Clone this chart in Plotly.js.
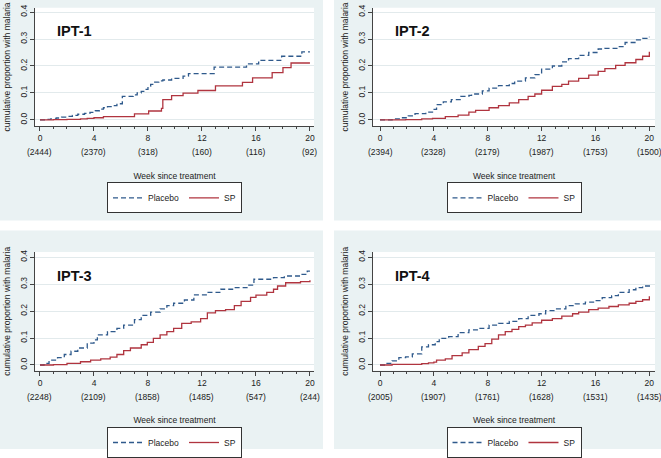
<!DOCTYPE html>
<html><head><meta charset="utf-8">
<script src="https://cdn.plot.ly/plotly-3.0.1.min.js"></script>
<style>html,body{margin:0;padding:0;background:#fff}#chart{width:661px;height:458px}</style>
</head><body><div id="chart"></div>
<script>
// ---- data ----
const weekTicks = [0, 4, 8, 12, 16, 20];
const propTicks = [0, 0.1, 0.2, 0.3, 0.4];
const panelTitles = ['IPT-1', 'IPT-2', 'IPT-3', 'IPT-4'];
const armNames = ['Placebo', 'SP'];
const xTitle = 'Week since treatment';
const yTitle = 'cumulative proportion with malaria';

const ipt1AtRisk = [2444, 2370, 318, 160, 116, 92];
const ipt2AtRisk = [2394, 2328, 2179, 1987, 1753, 1500];
const ipt3AtRisk = [2248, 2109, 1858, 1485, 547, 244];
const ipt4AtRisk = [2005, 1907, 1761, 1628, 1531, 1435];

const ipt1PlaceboWeek = [0, 0.4, 0.8, 1.2, 1.6, 2.0, 2.4, 2.8, 3.3, 3.7, 4.1, 4.4, 4.7, 5.0, 5.4, 5.7, 6.1, 6.9, 7.2, 7.5, 7.8, 8.0, 8.2, 8.5, 8.8, 9.1, 9.75, 10.6, 11.0, 12.9, 15.3, 16.2, 17.9, 19.4, 20];
const ipt1PlaceboCum  = [0, 0.002, 0.004, 0.007, 0.010, 0.013, 0.017, 0.021, 0.024, 0.028, 0.034, 0.040, 0.045, 0.049, 0.053, 0.060, 0.087, 0.093, 0.100, 0.106, 0.113, 0.125, 0.132, 0.140, 0.145, 0.148, 0.154, 0.162, 0.172, 0.196, 0.208, 0.221, 0.236, 0.252, 0.252];
const ipt1SpWeek = [0, 1.0, 2.0, 3.0, 3.5, 4.0, 4.7, 7.0, 8.05, 9.0, 9.1, 9.75, 10.6, 11.7, 13.0, 15.0, 15.75, 17.2, 18.0, 18.6, 20];
const ipt1SpCum  = [0, 0.001, 0.002, 0.004, 0.006, 0.008, 0.012, 0.022, 0.033, 0.043, 0.075, 0.090, 0.099, 0.109, 0.126, 0.139, 0.156, 0.175, 0.194, 0.211, 0.211];

const ipt2PlaceboWeek = [0, 0.9, 1.6, 2.1, 2.6, 3.4, 3.9, 4.2, 4.7, 5.3, 6.0, 6.6, 6.8, 7.6, 8.1, 8.8, 9.6, 10.0, 10.8, 11.5, 12.0, 12.8, 13.5, 14.0, 14.75, 15.5, 16.2, 16.7, 17.7, 18.2, 19.0, 19.5, 20];
const ipt2PlaceboCum  = [0, 0.004, 0.008, 0.015, 0.023, 0.029, 0.039, 0.057, 0.067, 0.075, 0.087, 0.091, 0.096, 0.108, 0.118, 0.127, 0.135, 0.144, 0.156, 0.168, 0.188, 0.200, 0.215, 0.227, 0.239, 0.250, 0.263, 0.265, 0.272, 0.287, 0.297, 0.302, 0.308];
const ipt2SpWeek = [0, 1.9, 3.1, 3.9, 4.85, 5.8, 6.6, 7.1, 8.1, 8.8, 9.6, 10.3, 11.0, 11.5, 12.0, 12.8, 13.5, 14.0, 14.75, 15.5, 16.2, 16.7, 17.5, 18.2, 19.0, 19.5, 20];
const ipt2SpCum  = [0, 0.001, 0.004, 0.006, 0.012, 0.018, 0.029, 0.035, 0.045, 0.053, 0.063, 0.075, 0.087, 0.096, 0.110, 0.124, 0.132, 0.144, 0.154, 0.166, 0.180, 0.190, 0.202, 0.212, 0.224, 0.236, 0.253];

const ipt3PlaceboWeek = [0, 0.3, 0.67, 1.3, 1.8, 2.3, 2.8, 3.5, 4.0, 4.25, 5.0, 5.7, 6.2, 7.0, 7.5, 8.2, 8.9, 9.4, 9.9, 10.7, 11.4, 12.4, 13.4, 14.4, 15.4, 15.85, 17.3, 18.1, 19.3, 19.8, 20];
const ipt3PlaceboCum  = [0, 0.006, 0.018, 0.027, 0.039, 0.051, 0.063, 0.081, 0.093, 0.112, 0.124, 0.136, 0.148, 0.168, 0.184, 0.196, 0.208, 0.220, 0.229, 0.241, 0.260, 0.269, 0.281, 0.287, 0.296, 0.318, 0.324, 0.330, 0.336, 0.348, 0.348];
const ipt3SpWeek = [0, 1.0, 2.0, 3.0, 3.75, 4.5, 5.2, 5.7, 6.2, 6.7, 7.5, 7.95, 8.4, 8.9, 9.4, 9.9, 10.5, 11.2, 11.9, 12.4, 13.0, 13.75, 14.4, 14.9, 15.6, 16.0, 16.8, 17.3, 17.6, 18.2, 19.3, 20];
const ipt3SpCum  = [0, 0.001, 0.006, 0.012, 0.018, 0.023, 0.029, 0.039, 0.053, 0.063, 0.075, 0.084, 0.099, 0.112, 0.124, 0.136, 0.154, 0.160, 0.172, 0.193, 0.202, 0.205, 0.220, 0.236, 0.251, 0.259, 0.269, 0.281, 0.293, 0.305, 0.309, 0.314];

const ipt4PlaceboWeek = [0, 0.4, 0.9, 1.4, 1.9, 2.4, 3.1, 3.6, 4.1, 4.4, 5.1, 5.8, 6.6, 7.3, 8.1, 8.8, 9.6, 10.3, 11.0, 11.8, 12.3, 13.0, 13.8, 14.5, 15.25, 16.0, 16.5, 17.2, 17.7, 18.5, 19.0, 19.5, 20];
const ipt4PlaceboCum  = [0, 0.006, 0.015, 0.027, 0.030, 0.041, 0.067, 0.075, 0.087, 0.099, 0.105, 0.120, 0.130, 0.136, 0.148, 0.154, 0.162, 0.172, 0.184, 0.190, 0.202, 0.208, 0.220, 0.227, 0.233, 0.239, 0.250, 0.257, 0.269, 0.279, 0.287, 0.293, 0.302];
const ipt4SpWeek = [0, 0.9, 3.1, 3.6, 4.0, 4.2, 4.85, 5.35, 6.1, 6.6, 7.3, 7.8, 8.3, 8.8, 9.3, 9.8, 10.3, 10.8, 11.3, 12.0, 12.8, 13.5, 14.3, 14.75, 15.5, 16.2, 17.0, 17.7, 18.5, 19.0, 19.5, 20];
const ipt4SpCum  = [0, 0.002, 0.005, 0.008, 0.011, 0.018, 0.023, 0.035, 0.045, 0.057, 0.069, 0.079, 0.096, 0.112, 0.124, 0.132, 0.142, 0.148, 0.156, 0.166, 0.172, 0.181, 0.190, 0.196, 0.205, 0.211, 0.217, 0.223, 0.229, 0.236, 0.242, 0.255];

// ---- layout (pixel geometry of the 661x458 figure) ----
const W = 661, H = 458;
const fx = v => v / W;
const fy = v => 1 - v / H;
const FONT = '"Liberation Sans", Arial, sans-serif';
const TXT = '#222';
const AXC = '#444';
const PANEL_BG = '#EAF2F3';
const C_PLACEBO = '#2F5A8C';
const C_SP = '#B0343F';

const series = [
  {pw: ipt1PlaceboWeek, pc: ipt1PlaceboCum, sw: ipt1SpWeek, sc: ipt1SpCum, risk: ipt1AtRisk},
  {pw: ipt2PlaceboWeek, pc: ipt2PlaceboCum, sw: ipt2SpWeek, sc: ipt2SpCum, risk: ipt2AtRisk},
  {pw: ipt3PlaceboWeek, pc: ipt3PlaceboCum, sw: ipt3SpWeek, sc: ipt3SpCum, risk: ipt3AtRisk},
  {pw: ipt4PlaceboWeek, pc: ipt4PlaceboCum, sw: ipt4SpWeek, sc: ipt4SpCum, risk: ipt4AtRisk}
];
// plot box [left,right,top,bottom] px, panel bg box, axis ranges, text rows
const geo = [
  {plot: [35, 314, 8, 128.5],  bg: [0, 323, 0, 225],   xr: [-0.37, 20.3], yr: [-0.0225, 0.4156], riskY: 155, legY: 186},
  {plot: [373, 655, 8, 128.5], bg: [334, 661, 0, 225], xr: [-0.52, 20.42], yr: [-0.0225, 0.4156], riskY: 155, legY: 186},
  {plot: [35, 314, 257, 378],  bg: [0, 323, 235, 458], xr: [-0.37, 20.3], yr: [-0.0207, 0.4193], riskY: 405, legY: 436},
  {plot: [373, 655, 257, 378], bg: [334, 661, 235, 458], xr: [-0.52, 20.42], yr: [-0.0207, 0.4193], riskY: 405, legY: 436}
];

const traces = [];
const layout = {
  width: W, height: H,
  margin: {l: 0, r: 0, t: 0, b: 0},
  paper_bgcolor: '#ffffff',
  plot_bgcolor: '#ffffff',
  font: {family: FONT, size: 8.5, color: TXT},
  shapes: [], annotations: []
};

geo.forEach((g, i) => {
  const n = i === 0 ? '' : String(i + 1);
  const xa = 'x' + n, ya = 'y' + n, lg = 'legend' + n;
  const s = series[i];
  traces.push({
    x: s.pw, y: s.pc, xaxis: xa, yaxis: ya, legend: lg,
    type: 'scatter', mode: 'lines', name: armNames[0],
    line: {color: C_PLACEBO, width: 1.3, dash: '5px,3px', shape: 'hv'}
  });
  traces.push({
    x: s.sw, y: s.sc, xaxis: xa, yaxis: ya, legend: lg,
    type: 'scatter', mode: 'lines', name: armNames[1],
    line: {color: C_SP, width: 1.3, shape: 'hv'}
  });

  layout['xaxis' + n] = {
    domain: [fx(g.plot[0]), fx(g.plot[1])], anchor: ya,
    range: g.xr, tickmode: 'array', tickvals: weekTicks,
    ticks: 'outside', ticklen: 4, tickwidth: 1, tickcolor: AXC,
    showline: true, linecolor: AXC, linewidth: 1,
    showgrid: false, zeroline: false, fixedrange: true,
    tickfont: {family: FONT, size: 8.5, color: TXT},
    minor: {tickmode: 'linear', tick0: weekTicks[0], dtick: 1, ticks: 'outside', ticklen: 2, tickcolor: AXC, showgrid: false},
    title: {text: xTitle, font: {family: FONT, size: 8.5, color: TXT}, standoff: 30}
  };
  layout['yaxis' + n] = {
    domain: [fy(g.plot[3]), fy(g.plot[2])], anchor: xa,
    range: g.yr, tickmode: 'array', tickvals: propTicks, tickformat: '.1f',
    tickangle: -90, ticks: 'outside', ticklen: 4, tickwidth: 1, tickcolor: AXC,
    showline: true, linecolor: AXC, linewidth: 1,
    showgrid: true, gridcolor: '#E2EAEC', gridwidth: 1, zeroline: false, fixedrange: true,
    tickfont: {family: FONT, size: 8.5, color: TXT},
    title: {text: yTitle, font: {family: FONT, size: 8.5, color: TXT}, standoff: 6}
  };
  layout[lg] = {
    orientation: 'h', x: fx((g.plot[0] + g.plot[1]) / 2), y: fy(g.legY),
    xanchor: 'center', yanchor: 'top',
    bgcolor: '#ffffff', bordercolor: '#333', borderwidth: 1,
    font: {family: FONT, size: 8.5, color: TXT}
  };

  layout.shapes.push({type: 'rect', xref: 'paper', yref: 'paper', layer: 'below',
    x0: fx(g.bg[0]), x1: fx(g.bg[1]), y0: fy(g.bg[3]), y1: fy(g.bg[2]),
    fillcolor: PANEL_BG, line: {width: 0}});

  s.risk.forEach((r, k) => {
    layout.annotations.push({xref: xa, yref: 'paper', x: weekTicks[k], y: fy(g.riskY),
      text: '(' + r + ')', showarrow: false, xanchor: 'center', yanchor: 'middle',
      font: {family: FONT, size: 8.5, color: TXT}});
  });
  layout.annotations.push({xref: xa + ' domain', yref: ya + ' domain', x: 0.072, y: 0.80,
    text: '<b>' + panelTitles[i] + '</b>', showarrow: false, xanchor: 'left', yanchor: 'middle',
    font: {family: FONT, size: 14.5, color: '#111'}});
});
geo.forEach((g, i) => {
  const n = i === 0 ? '' : String(i + 1);
  layout.shapes.push({type: 'rect', xref: 'x' + n + ' domain', yref: 'y' + n + ' domain', layer: 'below',
    x0: 0, x1: 1, y0: 0, y1: 1, fillcolor: '#ffffff', line: {width: 0}});
});

Plotly.newPlot('chart', traces, layout, {displayModeBar: false, staticPlot: true});
</script>
</body></html>
